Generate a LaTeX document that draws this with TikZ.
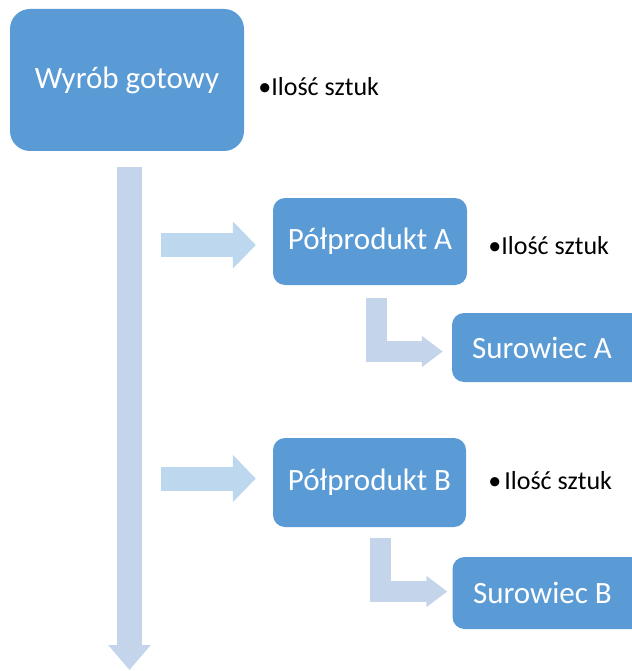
\documentclass[tikz,border=0pt]{standalone}
\usepackage{fontspec}
\setmainfont{Carlito}
\usetikzlibrary{arrows.meta}
\definecolor{boxblue}{HTML}{5B9BD5}
\definecolor{flowblue}{HTML}{BDD7EE}
\definecolor{stemblue}{HTML}{C4D5EB}

\begin{document}
\begin{tikzpicture}[x=1pt, y=-1pt,
    block/.style={rectangle, rounded corners=12pt, fill=boxblue, text=white,
                  font=\fontsize{31}{36}\selectfont, inner sep=0pt},
    note/.style={anchor=base west, inner sep=0pt, font=\fontsize{26}{30}\selectfont},
    flow/.style={draw=flowblue, line width=24pt, -{Triangle[length=23pt, width=46pt]}},
    branch/.style={draw=stemblue, line width=21pt, -{Triangle[length=21pt, width=30pt]}},
    stem/.style={draw=stemblue, line width=25pt, -{Triangle[length=25pt, width=41pt]}}
  ]
  \useasboundingbox (0,0) rectangle (631,671);

  % boxes
  \node[block, rounded corners=20pt, minimum width=234pt, minimum height=142pt] (gotowy) at (127,80) {Wyrób gotowy};
  \node[block, minimum width=194pt, minimum height=87pt] (polA) at (370,241.5) {Półprodukt A};
  \node[block, minimum width=198pt, minimum height=69pt] (surA) at (551,347.5) {Surowiec A\hspace*{18pt}};
  \node[block, minimum width=193pt, minimum height=89pt] (polB) at (369.5,482.5) {Półprodukt B};
  \node[block, minimum width=198pt, minimum height=72pt] (surB) at (551.5,593) {Surowiec B\hspace*{18pt}};

  % notes
  \node[note] (iloscG) at ([xshift=14pt, yshift=-16pt]gotowy.east) {•Ilość sztuk};
  \node[note] (iloscA) at ([xshift=21pt, yshift=-12.5pt]polA.east) {•Ilość sztuk};
  \node[note] (iloscB) at ([xshift=22pt, yshift=-6.5pt]polB.east) {•\hspace{3pt}Ilość sztuk};

  % arrows
  \coordinate (koniec) at (129.5,670);
  \draw[stem] ([xshift=2.5pt, yshift=-16pt]gotowy.south) -- (koniec);
  \draw[flow] ([xshift=-112pt, yshift=-3.5pt]polA.west) -- ([xshift=-17pt, yshift=-3.5pt]polA.west);
  \draw[flow] ([xshift=-112pt, yshift=4pt]polB.west) -- ([xshift=-17pt, yshift=4pt]polB.west);
  \draw[branch] ([xshift=6.5pt, yshift=-13pt]polA.south) |- ([xshift=-9pt, yshift=-4pt]surA.west);
  \draw[branch] ([xshift=10.5pt, yshift=-11pt]polB.south) |- ([xshift=-5pt, yshift=1.5pt]surB.west);
\end{tikzpicture}
\end{document}
